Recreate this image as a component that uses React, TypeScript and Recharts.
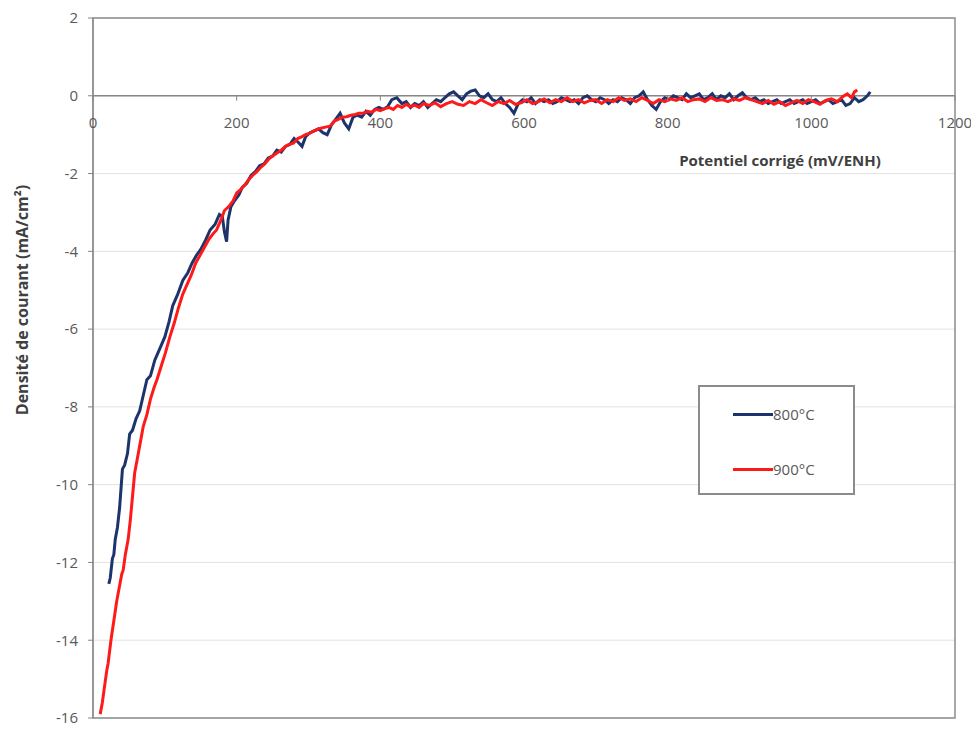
import React from "react"
import { LineChart, Line, XAxis, YAxis, CartesianGrid, ReferenceLine, ReferenceArea, Legend } from "recharts"

// 800°C run (mV/ENH, mA/cm²)
const potential800 = [
  22, 24, 27, 29, 31, 34, 37, 39, 41, 44, 48, 51, 55, 60, 65, 70, 75, 80, 86, 93,
  100, 106, 111, 118, 125, 132, 138, 144, 150, 157, 163, 170, 176, 180, 183, 186, 188, 192, 197, 203,
  208, 214, 220, 226, 232, 238, 244, 250, 256, 262, 268, 274, 280, 286, 291, 296, 302, 308, 314, 320,
  326, 332, 338, 344, 350, 356, 362, 368, 374, 380, 386, 392, 398, 404, 410, 416, 423, 430, 436, 442,
  448, 454, 460, 466, 472, 478, 484, 490, 496, 502, 508, 514, 520, 526, 532, 538, 544, 550, 556, 562,
  568, 574, 580, 586, 592, 598, 604, 610, 616, 622, 628, 634, 640, 646, 652, 658, 664, 670, 676, 682,
  688, 694, 700, 706, 712, 718, 724, 730, 736, 742, 748, 754, 760, 766, 772, 778, 784, 790, 796, 802,
  808, 814, 820, 826, 832, 838, 844, 850, 856, 862, 868, 874, 880, 886, 892, 898, 904, 910, 916, 922,
  928, 934, 940, 946, 952, 958, 964, 970, 976, 982, 988, 994, 1000, 1006, 1012, 1018, 1024, 1030, 1036, 1042,
  1048, 1054, 1060, 1066, 1072, 1078, 1082,
]
const current800 = [
  -12.55, -12.4, -11.9, -11.8, -11.4, -11.1, -10.6, -10.1, -9.6, -9.5, -9.2, -8.7, -8.6, -8.3, -8.1, -7.7, -7.3, -7.2, -6.8, -6.5,
  -6.2, -5.8, -5.4, -5.1, -4.75, -4.55, -4.3, -4.1, -3.95, -3.7, -3.45, -3.3, -3.05, -3.1, -3.5, -3.75, -3.2, -2.85, -2.7, -2.55,
  -2.35, -2.25, -2.05, -1.95, -1.8, -1.75, -1.6, -1.55, -1.4, -1.45, -1.3, -1.25, -1.1, -1.2, -1.3, -1.05, -0.95, -0.9, -0.85, -0.95,
  -1.0, -0.75, -0.6, -0.45, -0.7, -0.85, -0.55, -0.5, -0.55, -0.4, -0.5, -0.35, -0.3, -0.35, -0.28, -0.1, -0.05, -0.2, -0.15, -0.3,
  -0.2, -0.25, -0.15, -0.3, -0.2, -0.1, -0.15, -0.05, 0.05, 0.1, 0.0, -0.1, 0.05, 0.12, 0.15, 0.0, -0.05, 0.05, -0.1, -0.15,
  -0.05, -0.2, -0.3, -0.45, -0.2, -0.1, -0.15, -0.05, -0.2, -0.1, -0.15, -0.1, -0.2, -0.15, -0.05, -0.1, -0.15, -0.1, -0.2, -0.05,
  0.0, -0.1, -0.15, -0.05, -0.1, -0.2, -0.1, -0.15, -0.05, -0.1, -0.2, -0.05, 0.0, 0.1, -0.1, -0.25, -0.35, -0.15, -0.05, -0.1,
  0.0, -0.05, -0.1, 0.05, -0.05, 0.0, 0.05, -0.1, -0.05, 0.05, -0.1, 0.0, -0.05, 0.05, -0.1, 0.0, 0.08, -0.05, -0.1, -0.05,
  -0.15, -0.1, -0.2, -0.15, -0.1, -0.2, -0.15, -0.1, -0.2, -0.15, -0.1, -0.2, -0.15, -0.1, -0.2, -0.15, -0.1, -0.2, -0.15, -0.1,
  -0.25, -0.2, -0.05, -0.15, -0.1, 0.0, 0.1,
]

// 900°C run
const potential900 = [
  10, 13, 16, 19, 21, 25, 29, 33, 37, 40, 42, 45, 49, 52, 55, 58, 62, 66, 70, 75,
  80, 85, 89, 95, 101, 107, 113, 119, 125, 131, 137, 143, 149, 155, 161, 167, 172, 178, 183, 189,
  195, 200, 205, 211, 217, 222, 228, 233, 239, 245, 250, 256, 262, 268, 273, 279, 285, 291, 296, 302,
  308, 314, 320, 325, 330, 336, 342, 347, 353, 359, 365, 370, 376, 382, 388, 394, 400, 406, 412, 418,
  424, 430, 436, 442, 448, 454, 460, 468, 476, 484, 492, 500, 508, 516, 524, 532, 540, 548, 556, 564,
  572, 580, 588, 596, 604, 612, 620, 628, 636, 644, 652, 660, 668, 676, 684, 692, 700, 708, 716, 724,
  732, 740, 748, 756, 764, 772, 780, 788, 796, 804, 812, 820, 828, 836, 844, 852, 860, 868, 876, 884,
  892, 900, 908, 916, 924, 932, 940, 948, 956, 964, 972, 980, 988, 996, 1004, 1012, 1020, 1028, 1036, 1044,
  1050, 1056, 1060, 1064,
]
const current900 = [
  -15.9, -15.6, -15.2, -14.8, -14.6, -14.0, -13.5, -13.0, -12.6, -12.3, -12.2, -11.8, -11.4, -10.9, -10.3, -9.7, -9.3, -8.9, -8.5, -8.2,
  -7.8, -7.5, -7.3, -6.95, -6.6, -6.2, -5.85, -5.45, -5.1, -4.85, -4.6, -4.3, -4.1, -3.9, -3.7, -3.55, -3.45, -3.2, -2.95, -2.85,
  -2.7, -2.5, -2.42, -2.3, -2.15, -2.05, -1.95, -1.85, -1.75, -1.62, -1.55, -1.47, -1.4, -1.3, -1.25, -1.22, -1.1, -1.05, -1.0, -0.96,
  -0.9, -0.85, -0.82, -0.8, -0.78, -0.65, -0.6, -0.55, -0.54, -0.5, -0.48, -0.45, -0.45, -0.4, -0.42, -0.35, -0.38, -0.33, -0.3, -0.35,
  -0.25, -0.3, -0.22, -0.28, -0.24, -0.3, -0.2, -0.25, -0.18, -0.28, -0.2, -0.15, -0.22, -0.25, -0.15, -0.2, -0.1, -0.18, -0.25, -0.15,
  -0.2, -0.12, -0.22, -0.18, -0.1, -0.2, -0.15, -0.08, -0.18, -0.1, -0.15, -0.05, -0.15, -0.1, -0.18, -0.12, -0.1, -0.2, -0.1, -0.15,
  -0.05, -0.12, -0.08, -0.15, -0.05, -0.12, -0.2, -0.1, -0.15, -0.08, -0.12, -0.05, -0.15, -0.1, -0.08, -0.15, -0.05, -0.12, -0.1, -0.15,
  -0.08, -0.12, -0.05, -0.1, -0.15, -0.2, -0.12, -0.22, -0.15, -0.25, -0.18, -0.12, -0.2, -0.1, -0.15, -0.22, -0.12, -0.08, -0.15, -0.02,
  0.05, -0.05, 0.1, 0.15,
]

const xTicks = [0, 200, 400, 600, 800, 1000, 1200]
const yTicks = [-16, -14, -12, -10, -8, -6, -4, -2, 0, 2]

const series800 = potential800.map((x, i) => ({ x, y: current800[i] }))
const series900 = potential900.map((x, i) => ({ x, y: current900[i] }))

const FONT = "'Open Sans', 'Liberation Sans', sans-serif"
const PLOT_TOP = 10
const PLOT_H = 700
const ZERO_Y = PLOT_TOP + (PLOT_H * 2) / 18

const XTick = ({ x, payload }: any) => (
  <g>
    <line x1={x} x2={x} y1={ZERO_Y} y2={ZERO_Y + 5} stroke="#868686" />
    <text x={x} y={ZERO_Y + 26} textAnchor="middle" dominantBaseline="central" fill="#595959" fontSize={15} fontFamily={FONT}>
      {payload.value}
    </text>
  </g>
)

const YTitle = () => (
  <text
    x={14}
    y={292}
    transform="rotate(-90, 14, 292)"
    textAnchor="middle"
    dominantBaseline="central"
    fill="#404040"
    fontSize={16}
    fontWeight="bold"
    fontFamily={FONT}
  >
    Densité de courant (mA/cm²)
  </text>
)

const XTitle = () => (
  <text x={772} y={152} textAnchor="middle" dominantBaseline="central" fill="#404040" fontSize={15} fontWeight="bold" fontFamily={FONT}>
    Potentiel corrigé (mV/ENH)
  </text>
)

const LegendBox = ({ payload }: any) => (
  <div style={{ width: 153, height: 106, border: "2px solid #8c8c8c", background: "#fff", position: "relative", fontFamily: FONT }}>
    {(payload || []).map((p: any, i: number) => (
      <div key={p.value} style={{ position: "absolute", left: 33, top: 16 + i * 55, display: "flex", alignItems: "center", height: 22 }}>
        <span style={{ display: "inline-block", width: 40, height: 3, background: p.color }} />
        <span style={{ fontSize: 15, color: "#595959" }}>{p.value}</span>
      </div>
    ))}
  </div>
)

export default function App() {
  return (
    <LineChart width={963} height={721} margin={{ top: PLOT_TOP, right: 16, bottom: 9, left: 0 }}>
      <CartesianGrid vertical={false} stroke="#e3e3e3" />
      <ReferenceArea x1={0} x2={1200} y1={-16} y2={2} fill="none" stroke="#8c8c8c" strokeWidth={1.5} />
      <XAxis
        type="number"
        dataKey="x"
        domain={[0, 1200]}
        ticks={xTicks}
        height={2}
        axisLine={false}
        tickLine={false}
        tick={<XTick />}
        interval={0}
        allowDataOverflow
      />
      <YAxis
        type="number"
        domain={[-16, 2]}
        ticks={yTicks}
        width={85}
        interval={0}
        tickSize={5}
        tickMargin={10}
        stroke="#868686"
        tick={{ fill: "#595959", fontSize: 15, fontFamily: FONT }}
        label={<YTitle />}
      />
      <ReferenceLine y={0} stroke="#868686" strokeWidth={1.5} label={<XTitle />} />
      <Line data={series800} dataKey="y" name="800°C" type="linear" stroke="#1c336b" strokeWidth={3} dot={false} isAnimationActive={false} />
      <Line data={series900} dataKey="y" name="900°C" type="linear" stroke="#ff1a1a" strokeWidth={3} dot={false} isAnimationActive={false} />
      <Legend
        layout="horizontal"
        align="center"
        verticalAlign="middle"
        content={<LegendBox />}
        wrapperStyle={{ position: "absolute", left: 690, top: 377, width: 157, height: 110 }}
      />
    </LineChart>
  )
}
